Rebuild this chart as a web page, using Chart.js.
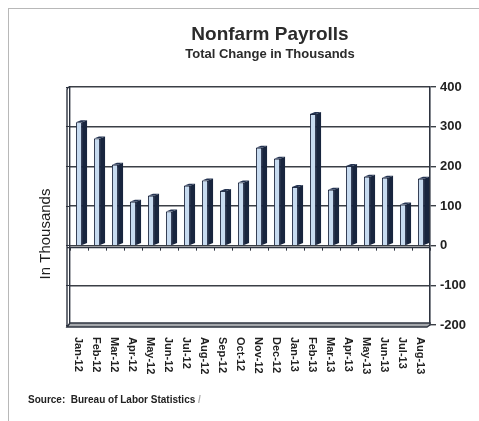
<!DOCTYPE html>
<html>
<head>
<meta charset="utf-8">
<script src="https://cdn.jsdelivr.net/npm/chart.js@4.4.1/dist/chart.umd.min.js"></script>
<style>
  body { margin: 0; background: #fff; }
  #wrap { position: relative; width: 479px; height: 421px; }
  #frame { position: absolute; left: 8px; top: 8px; right: 0; bottom: 0;
           border-left: 1px solid #b8b8b8; border-top: 1px solid #b8b8b8; }
  #source { position: absolute; left: 28px; top: 394px; font: bold 10px "Liberation Sans", Arial, sans-serif;
            color: #222; white-space: pre; }
  #source span { color: #aaa; }
  canvas { position: absolute; left: 0; top: 0; }
</style>
</head>
<body>
<div id="wrap">
  <div id="frame"></div>
  <canvas id="payrolls" width="479" height="421"></canvas>
  <div id="source">Source:  Bureau of Labor Statistics <span>/</span></div>
</div>
<script>
const months = ['Jan-12', 'Feb-12', 'Mar-12', 'Apr-12', 'May-12', 'Jun-12', 'Jul-12', 'Aug-12',
  'Sep-12', 'Oct-12', 'Nov-12', 'Dec-12', 'Jan-13', 'Feb-13', 'Mar-13', 'Apr-13',
  'May-13', 'Jun-13', 'Jul-13', 'Aug-13'];
const payrolls = [311, 270, 204, 111, 126, 86, 151, 164, 138, 159, 247, 219, 148, 332, 141, 201, 174, 171, 104, 169];
const yTicks = [400, 300, 200, 100, 0, -100, -200];

const FONT = '"Liberation Sans", Arial, sans-serif';
const DEPTH = 5;
const RISE = 2;

// titles, y title and rotated month labels
const textPlugin = {
  id: 'texts',
  afterDraw(chart) {
    const ctx = chart.ctx;
    const xs = chart.scales.x;
    ctx.save();
    ctx.fillStyle = '#2b2b2b';
    ctx.textAlign = 'center';
    ctx.textBaseline = 'middle';
    ctx.font = 'bold 19px ' + FONT;
    ctx.fillText('Nonfarm Payrolls', 270, 35);
    ctx.font = 'bold 13px ' + FONT;
    ctx.fillText('Total Change in Thousands', 270, 54);

    ctx.save();
    ctx.translate(46, 234);
    ctx.rotate(-Math.PI / 2);
    ctx.font = '15px ' + FONT;
    ctx.fillStyle = '#1e1e1e';
    ctx.fillText('In Thousands', 0, 0);
    ctx.restore();

    ctx.font = 'bold 11px ' + FONT;
    ctx.fillStyle = '#222';
    ctx.textAlign = 'left';
    months.forEach((m, i) => {
      ctx.save();
      ctx.translate(xs.getPixelForTick(i) - 1, 337);
      ctx.rotate(Math.PI / 2);
      ctx.fillText(m, 0, 0);
      ctx.restore();
    });
    ctx.restore();
  }
};

// walls, floor and the zero base line
const wallsPlugin = {
  id: 'walls',
  beforeDatasetsDraw(chart) {
    const ctx = chart.ctx;
    const a = chart.chartArea;
    const ys = chart.scales.y;
    const xs = chart.scales.x;
    ctx.save();
    ctx.strokeStyle = '#2e3440';
    ctx.lineWidth = 1.4;
    // left wall
    ctx.beginPath();
    ctx.moveTo(a.left - 3, a.top + 3);
    ctx.quadraticCurveTo(a.left - 3, a.top, a.left, a.top);
    ctx.moveTo(a.left - 3, a.top + 3);
    ctx.lineTo(a.left - 3, a.bottom + 2);
    ctx.stroke();
    // floor
    ctx.fillStyle = '#a4a7ab';
    ctx.beginPath();
    ctx.moveTo(a.left - 3, a.bottom + 2);
    ctx.lineTo(a.left, a.bottom - 2);
    ctx.lineTo(a.right, a.bottom - 2);
    ctx.lineTo(a.right, a.bottom);
    ctx.lineTo(a.right - 3, a.bottom + 2);
    ctx.closePath();
    ctx.fill();
    ctx.stroke();
    // zero base with category ticks
    const y0 = ys.getPixelForValue(0);
    ctx.beginPath();
    ctx.moveTo(a.left - 3, y0 + 2);
    ctx.lineTo(a.right, y0 + 2);
    ctx.stroke();
    ctx.lineWidth = 1;
    ctx.beginPath();
    const step = xs.width / months.length;
    for (let i = 0; i <= months.length; i++) {
      const x = Math.round(a.left + i * step) + 0.5;
      ctx.moveTo(x, y0 + 2);
      ctx.lineTo(x, y0 + 5);
    }
    ctx.stroke();
    ctx.restore();
  },
  afterDatasetsDraw(chart) {
    const ctx = chart.ctx;
    ctx.save();
    chart.getDatasetMeta(0).data.forEach(bar => {
      const left = bar.x - bar.width / 2;
      const right = bar.x + bar.width / 2;
      // dark side face
      ctx.fillStyle = '#18253e';
      ctx.beginPath();
      ctx.moveTo(right, bar.y);
      ctx.lineTo(right + DEPTH, bar.y - RISE);
      ctx.lineTo(right + DEPTH, bar.base - RISE);
      ctx.lineTo(right, bar.base);
      ctx.closePath();
      ctx.fill();
      // top cap
      ctx.fillStyle = '#263553';
      ctx.beginPath();
      ctx.moveTo(left, bar.y);
      ctx.lineTo(left + DEPTH, bar.y - RISE);
      ctx.lineTo(right + DEPTH, bar.y - RISE);
      ctx.lineTo(right, bar.y);
      ctx.closePath();
      ctx.fill();
    });
    ctx.restore();
  }
};

new Chart(document.getElementById('payrolls'), {
  type: 'bar',
  data: {
    labels: months,
    datasets: [{
      data: payrolls,
      backgroundColor: '#c7dbf0',
      borderColor: '#1f2a42',
      borderWidth: 1,
      barPercentage: 1,
      categoryPercentage: 0.34
    }]
  },
  options: {
    responsive: false,
    animation: false,
    layout: { padding: { top: 87, left: 0, right: 0, bottom: 0 } },
    plugins: { legend: { display: false }, tooltip: { enabled: false } },
    scales: {
      x: {
        grid: { display: false },
        border: { display: false },
        ticks: { display: false },
        afterFit(scale) { scale.height = 96; }
      },
      y: {
        position: 'right',
        min: -200,
        max: 400,
        afterBuildTicks(scale) { scale.ticks = yTicks.map(v => ({ value: v })); },
        grid: { color: '#3b3f46', lineWidth: 1.4, tickLength: 6 },
        border: { color: '#2e3440', width: 1.6 },
        ticks: { color: '#222', font: { family: FONT, size: 13, weight: 'bold' }, padding: 4 },
        afterFit(scale) { scale.width = 49; }
      },
      yl: {
        position: 'left',
        min: -200,
        max: 400,
        afterBuildTicks(scale) { scale.ticks = yTicks.map(v => ({ value: v })); },
        grid: { drawOnChartArea: false, color: '#2e3440', tickLength: 4 },
        border: { color: '#2e3440', width: 1.4 },
        ticks: { display: false },
        afterFit(scale) { scale.width = 70; }
      }
    }
  },
  plugins: [wallsPlugin, textPlugin]
});
</script>
</body>
</html>
